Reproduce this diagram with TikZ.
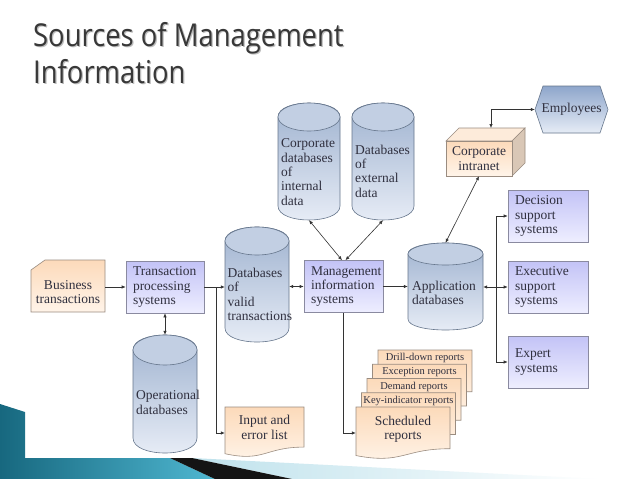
\documentclass[tikz,border=0pt]{standalone}
\usepackage{fontspec}
\setmainfont{Liberation Serif}
\newfontfamily\titlefont{Open Sans}
\usepackage{graphicx}
\usetikzlibrary{arrows.meta,calc}
\definecolor{lavtop}{HTML}{C3C3F6}
\definecolor{lavbot}{HTML}{EEEEFF}
\definecolor{boxline}{HTML}{8A8AA0}
\definecolor{peachtop}{HTML}{FCDABA}
\definecolor{peachbot}{HTML}{FFF4E9}
\definecolor{peachline}{HTML}{9A8C80}
\definecolor{cyltopc}{HTML}{9CB0CE}
\definecolor{cylbot}{HTML}{E9EEF7}
\definecolor{cylend}{HTML}{C2CFE3}
\definecolor{cylline}{HTML}{66768C}
\definecolor{emptop}{HTML}{8EA6CB}
\definecolor{empbot}{HTML}{E6ECF6}
\definecolor{txt}{HTML}{30303F}
\definecolor{linec}{HTML}{333333}
\definecolor{titlec}{HTML}{383838}
\definecolor{titlesh}{HTML}{BDBDBD}
\definecolor{tealdk}{HTML}{17687F}
\definecolor{teallt}{HTML}{4FB7D1}
\definecolor{ltblue}{HTML}{BFE2EC}
\definecolor{inttop}{HTML}{FDEBDA}
\definecolor{intside}{HTML}{D9C7B6}

\newcommand\dbcyl[9]{%
 \pgfmathsetmacro\cyA{#3+#6}%
 \pgfmathsetmacro\cyB{#5-#6}%
 \pgfmathsetmacro\cyK{#6*4/3}%
 \pgfmathsetmacro\cyM{(#2+#4)/2}%
 \pgfmathsetmacro\cyR{(#4-#2)/2}%
 \pgfmathsetmacro\cyW{#4-#2}%
 \pgfmathsetmacro\cyH{#5-#3}%
 \pgfmathsetmacro\cyC{(#3+#5)/2}%
 \path[cylbody] (#2,\cyA) -- (#2,\cyB) .. controls (#2,\cyB+\cyK) and (#4,\cyB+\cyK) .. (#4,\cyB) -- (#4,\cyA) .. controls (#4,\cyA-\cyK) and (#2,\cyA-\cyK) .. (#2,\cyA) -- cycle;
 \path[cylend] (\cyM,\cyA) ellipse [x radius=\cyR pt, y radius=#6 pt];
 \node[bnd, minimum width=\cyW pt, minimum height=\cyH pt] (#1) at (\cyM,\cyC) {};
 \node[lbl, anchor=west] (#1-t) at (#7,#8) {#9};
}
\newcommand\docshape[5]{%
 \path[#5] (#1,#2) -- ({#1+#3},#2) -- ({#1+#3},{#2+0.802*#4}) .. controls ({#1+0.5*#3},{#2+0.802*#4}) and ({#1+0.5*#3},{#2+1.107*#4}) .. (#1,{#2+0.934*#4}) -- cycle;
}

\begin{document}
\begin{tikzpicture}[x=1pt,y=-1pt,
  lbl/.style={font=\fontsize{13.5}{14.3}\selectfont, text=txt, inner sep=0pt, align=left},
  lbls/.style={font=\fontsize{10.5}{12}\selectfont, text=txt, inner sep=0pt},
  bnd/.style={inner sep=0pt, draw=none},
  lavbox/.style={draw=boxline, line width=0.6pt, top color=lavtop, bottom color=lavbot,
     minimum height=52pt, inner xsep=7pt, inner ysep=0pt, align=left,
     font=\fontsize{13.5}{14.3}\selectfont, text=txt},
  peachfill/.style={draw=peachline, line width=0.6pt, top color=peachtop, bottom color=peachbot},
  cylbody/.style={draw=cylline, line width=0.6pt, top color=cyltopc, bottom color=cylbot},
  cylend/.style={draw=cylline, line width=0.6pt, fill=cylend},
  arr/.style={draw=linec, line width=0.6pt, -{Latex[length=4pt,width=3.4pt]}},
  darr/.style={draw=linec, line width=0.6pt, {Latex[length=4pt,width=3.4pt]}-{Latex[length=4pt,width=3.4pt]}},
  plain/.style={draw=linec, line width=0.6pt},
  ttl/.style={anchor=base west, inner sep=0pt, text=titlec, font=\titlefont\fontsize{31.5}{31.5}\selectfont},
  ttlsh/.style={ttl, text=titlesh}
]
\useasboundingbox (0,0) rectangle (638,479);
\fill[white] (0,0) rectangle (638,479);

% title (with soft shadow)
\node[ttlsh] (title1s) at (34.2,47.2) {\scalebox{0.87}[1]{Sources of Management}};
\node[ttlsh] (title2s) at (34.2,84.2) {\scalebox{0.87}[1]{Information}};
\node[ttl] (title1) at (33,46) {\scalebox{0.87}[1]{Sources of Management}};
\node[ttl] (title2) at (33,83) {\scalebox{0.87}[1]{Information}};

% bottom decoration
\shade[left color=tealdk, right color=teallt] (0,404) -- (25,412) -- (25,458) -- (170,458) -- (215,479) -- (0,479) -- cycle;
\shade[left color=ltblue, right color=white] (192,458) -- (600,479) -- (292,479) -- cycle;
\fill[black!92] (170,458) -- (192,458) -- (292,479) -- (215,479) -- cycle;

% business transactions
\path[peachfill] (31,270) -- (45,260) -- (105,260) -- (105,312) -- (31,312) -- cycle;
\node[lbl, align=center, minimum width=74pt] (bt) at (68,292) {Business\\transactions};

% rectangles
\node[lavbox, text width=64pt] (tps) at (165,287) {Transaction\\processing\\systems};
\node[lavbox, text width=65pt] (mis) at (343.5,286.5) {Management\\information\\systems};
\node[lavbox, text width=66pt] (dss) at (548,216) {Decision\\support\\systems};
\node[lavbox, text width=66pt] (ess) at (548,287) {Executive\\support\\systems};
\node[lavbox, text width=66pt] (es) at (548,362) {Expert\\systems};

% cylinders
\dbcyl{vdb}{225}{227}{289}{342}{14}{227.5}{294.5}{Databases\\of\\valid\\transactions}
\dbcyl{idb}{278}{103}{340}{220}{14}{281}{172}{Corporate\\databases\\of\\internal\\data}
\dbcyl{edb}{352}{103}{414}{220}{14}{355}{171}{Databases\\of\\external\\data}
\dbcyl{adb}{408}{243}{483}{330}{11}{412}{293}{Application\\databases}
\dbcyl{odb}{133}{335}{197}{453}{15}{136}{402.5}{Operational\\databases}

% corporate intranet (3D box)
\path[draw=peachline, line width=0.6pt, fill=inttop] (446,141) -- (459,128) -- (525,128) -- (512,141) -- cycle;
\path[draw=peachline, line width=0.6pt, fill=intside] (512,141) -- (525,128) -- (525,163) -- (512,176) -- cycle;
\path[peachfill] (446,141) rectangle (512,176);
\node[lbl, align=center, minimum width=66pt, minimum height=35pt] (intr) at (479,158.5) {Corporate\\intranet};

% employees
\path[draw=cylline, line width=0.6pt, top color=emptop, bottom color=empbot] (535,109.5) -- (543,86) -- (600,86) -- (608,109.5) -- (600,133) -- (543,133) -- cycle;
\node[lbl, align=center, minimum width=73pt] (emp) at (571.5,109.5) {Employees};

% input and error list
\docshape{225}{407}{79}{50}{peachfill}
\node[lbl, align=center, minimum width=79pt] (iel) at (264.5,427.5) {Input and\\error list};

% reports stack
\docshape{378}{350}{94}{52}{peachfill}
\node[lbls] (rdrill) at (425,358) {Drill-down reports};
\docshape{372.5}{364.25}{94}{52}{peachfill}
\node[lbls] (rexc) at (419.5,372.25) {Exception reports};
\docshape{367}{378.5}{94}{52}{peachfill}
\node[lbls] (rdem) at (414,386.5) {Demand reports};
\docshape{361.5}{392.75}{94}{52}{peachfill}
\node[lbls] (rkey) at (408.5,400.75) {Key-indicator reports};
\docshape{356}{407}{94}{52}{peachfill}
\node[lbl, align=center, minimum width=94pt] (sched) at (403,429.5) {Scheduled\\reports};

% connectors
\draw[arr] (bt.east |- tps.west) -- (tps.west);
\coordinate (br1) at (216,287);
\draw[plain] (tps.east) -- (br1);
\draw[arr] (br1) -- (br1 -| vdb.west);
\draw[arr] (br1) |- ($(iel.west)+(0,5.5)$);
\draw[darr] (tps.south) -- (tps.south |- odb.north);
\draw[darr] (vdb.east |- mis.west) -- (mis.west);
\draw[arr] (mis.east) -- (mis.east -| adb.west);
\draw[darr] ($(mis.north)+(-1.5,0)$) -- (idb.south);
\draw[darr] ($(mis.north)+(2,0)$) -- (edb.south);
\draw[darr] (adb.north) -- (intr.south);
\coordinate (itop) at (491,128);
\draw[darr] (itop) |- (emp.west);
\coordinate (br2) at (496,287);
\draw[arr] (br2) -- (br2 -| adb.east);
\draw[arr] (br2) -- (ess.west);
\draw[arr] (br2) |- (dss.west);
\draw[arr] (br2) |- (es.west);
\draw[arr] (mis.south) |- ($(sched.west)+(0,3.5)$);
\end{tikzpicture}
\end{document}
